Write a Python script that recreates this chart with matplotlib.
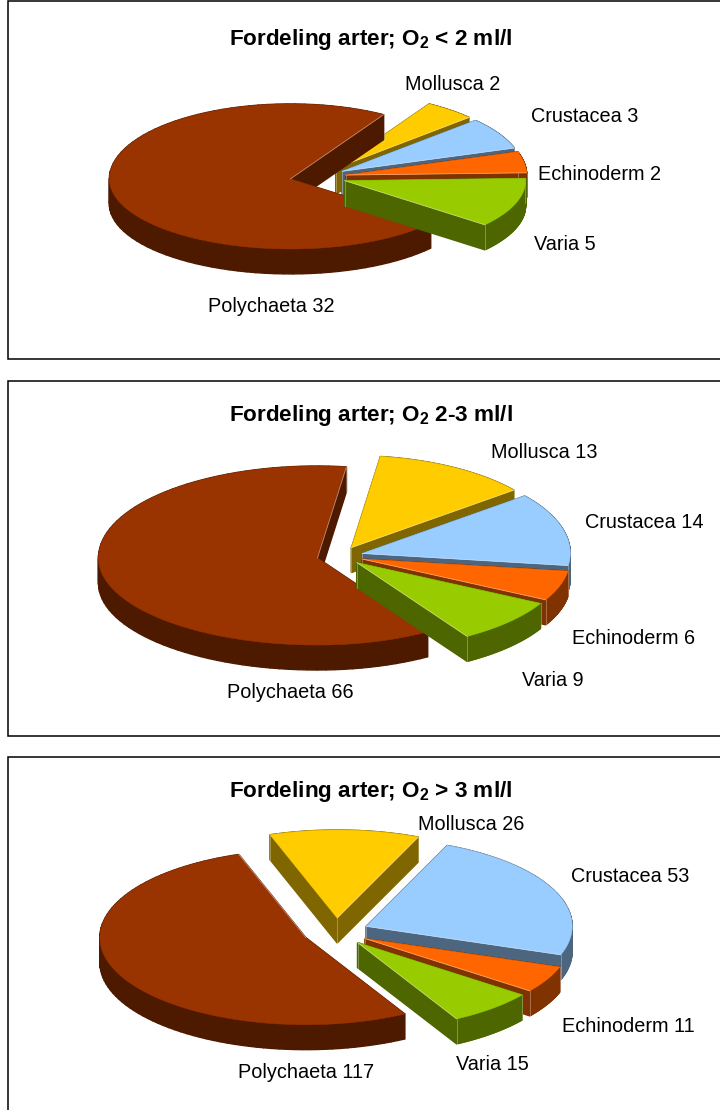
import numpy as np
import matplotlib
matplotlib.use("Agg")
import matplotlib.pyplot as plt
from matplotlib.patches import Polygon, Rectangle

plt.rcParams['font.family'] = ['Liberation Sans', 'DejaVu Sans']
plt.rcParams['mathtext.fontset'] = 'custom'
plt.rcParams['mathtext.rm'] = 'Liberation Sans'
plt.rcParams['mathtext.bf'] = 'Liberation Sans:bold'

categories = ["Polychaeta", "Mollusca", "Crustacea", "Echinoderm", "Varia"]
values_low = [32, 2, 3, 2, 5]
values_mid = [66, 13, 14, 6, 9]
values_high = [117, 26, 53, 11, 15]
titles = ["< 2 ml/l", "2-3 ml/l", "> 3 ml/l"]

top_colors = ["#993300", "#FFCC00", "#99CCFF", "#FF6600", "#99CC00"]
side_colors = ["#4D1A00", "#806600", "#4D6680", "#803300", "#4D6600"]

# panel box top/bottom in pixels, pie centre, radii (left, right, up, down), explode, first slice angle
panels = [
    dict(values=values_low, box=(1, 359), title_y=39, c=(318, 177), r=(181, 181, 75, 70), explode=0.155, start=59,
         labels=[(208, 306), (405, 85), (531, 117), (538, 174), (534, 245)]),
    dict(values=values_mid, box=(381, 736), title_y=415, c=(340, 556), r=(219, 208, 92, 87), explode=0.108, start=82,
         labels=[(227, 693), (491, 452), (585, 522), (572, 638), (522, 681)]),
    dict(values=values_high, box=(757, 1125), title_y=791, c=(336, 932), r=(206, 206, 88, 87), explode=0.16, start=109,
         labels=[(238, 1073), (418, 824), (571, 876), (562, 1026), (456, 1064)]),
]
depth = 25


def draw_slice(ax, apex, r, a0, a1, top, side):
    angles = np.radians(np.linspace(a0, a1, 90))
    rx = np.where(np.cos(angles) < 0, r[0], r[1])
    ry = np.where(np.sin(angles) > 0, r[2], r[3])
    xs = np.r_[apex[0], apex[0] + rx * np.cos(angles)]
    ys = np.r_[apex[1], apex[1] - ry * np.sin(angles)]
    pts = np.c_[xs, ys]
    # walls first, the top face covers what should not show
    for p, q in zip(pts, np.roll(pts, -1, axis=0)):
        wall = [p, q, q + (0, depth), p + (0, depth)]
        ax.add_patch(Polygon(wall, fc=side, ec=side, lw=1.0))
    # pale corner lines, zorder 1 keeps them in drawing order with the patches
    for p in (pts[0], pts[1], pts[-1]):
        ax.plot([p[0], p[0]], [p[1], p[1] + depth], color="white", alpha=0.35, lw=0.6, zorder=1)
    ax.add_patch(Polygon(pts, fc=top, ec=top, lw=0.4))
    ax.plot([pts[0][0], pts[1][0]], [pts[0][1], pts[1][1]], color="white", alpha=0.45, lw=0.6, zorder=1)


fig = plt.figure(figsize=(7.2, 11.1), dpi=100, facecolor="white")
ax = fig.add_axes([0, 0, 1, 1])
ax.set_xlim(0, 720)
ax.set_ylim(1110, 0)
ax.axis("off")

for panel, cond in zip(panels, titles):
    y0, y1 = panel["box"]
    ax.add_patch(Rectangle((8, y0), 730, y1 - y0, fc="white", ec="black", lw=1.1))
    ax.text(371, panel["title_y"], r"Fordeling arter; O$_{\mathbf{2}}$ " + cond,
            ha="center", va="center", fontsize=16.2, fontweight="bold", color="black")

    vals = np.array(panel["values"], dtype=float)
    sweep = vals / vals.sum() * 360
    # first slice runs counter clockwise from start, the others clockwise from start
    bounds = [(panel["start"], panel["start"] + sweep[0])]
    a = panel["start"]
    for s in sweep[1:]:
        bounds.append((a - s, a))
        a -= s

    rx_mean = (panel["r"][0] + panel["r"][1]) / 2
    ry_mean = (panel["r"][2] + panel["r"][3]) / 2
    order = []
    for i, (a0, a1) in enumerate(bounds):
        mid = np.radians((a0 + a1) / 2)
        apex = (panel["c"][0] + panel["explode"] * rx_mean * np.cos(mid),
                panel["c"][1] - panel["explode"] * ry_mean * np.sin(mid))
        order.append((-np.sin(mid), i, apex))
    for _, i, apex in sorted(order, key=lambda t: t[0]):
        a0, a1 = bounds[i]
        draw_slice(ax, apex, panel["r"], a0, a1, top_colors[i], side_colors[i])

    for name, v, pos in zip(categories, panel["values"], panel["labels"]):
        ax.text(pos[0], pos[1], f"{name} {v}", ha="left", va="center", fontsize=14.3, color="black")

fig.savefig("out.png", dpi=100)
